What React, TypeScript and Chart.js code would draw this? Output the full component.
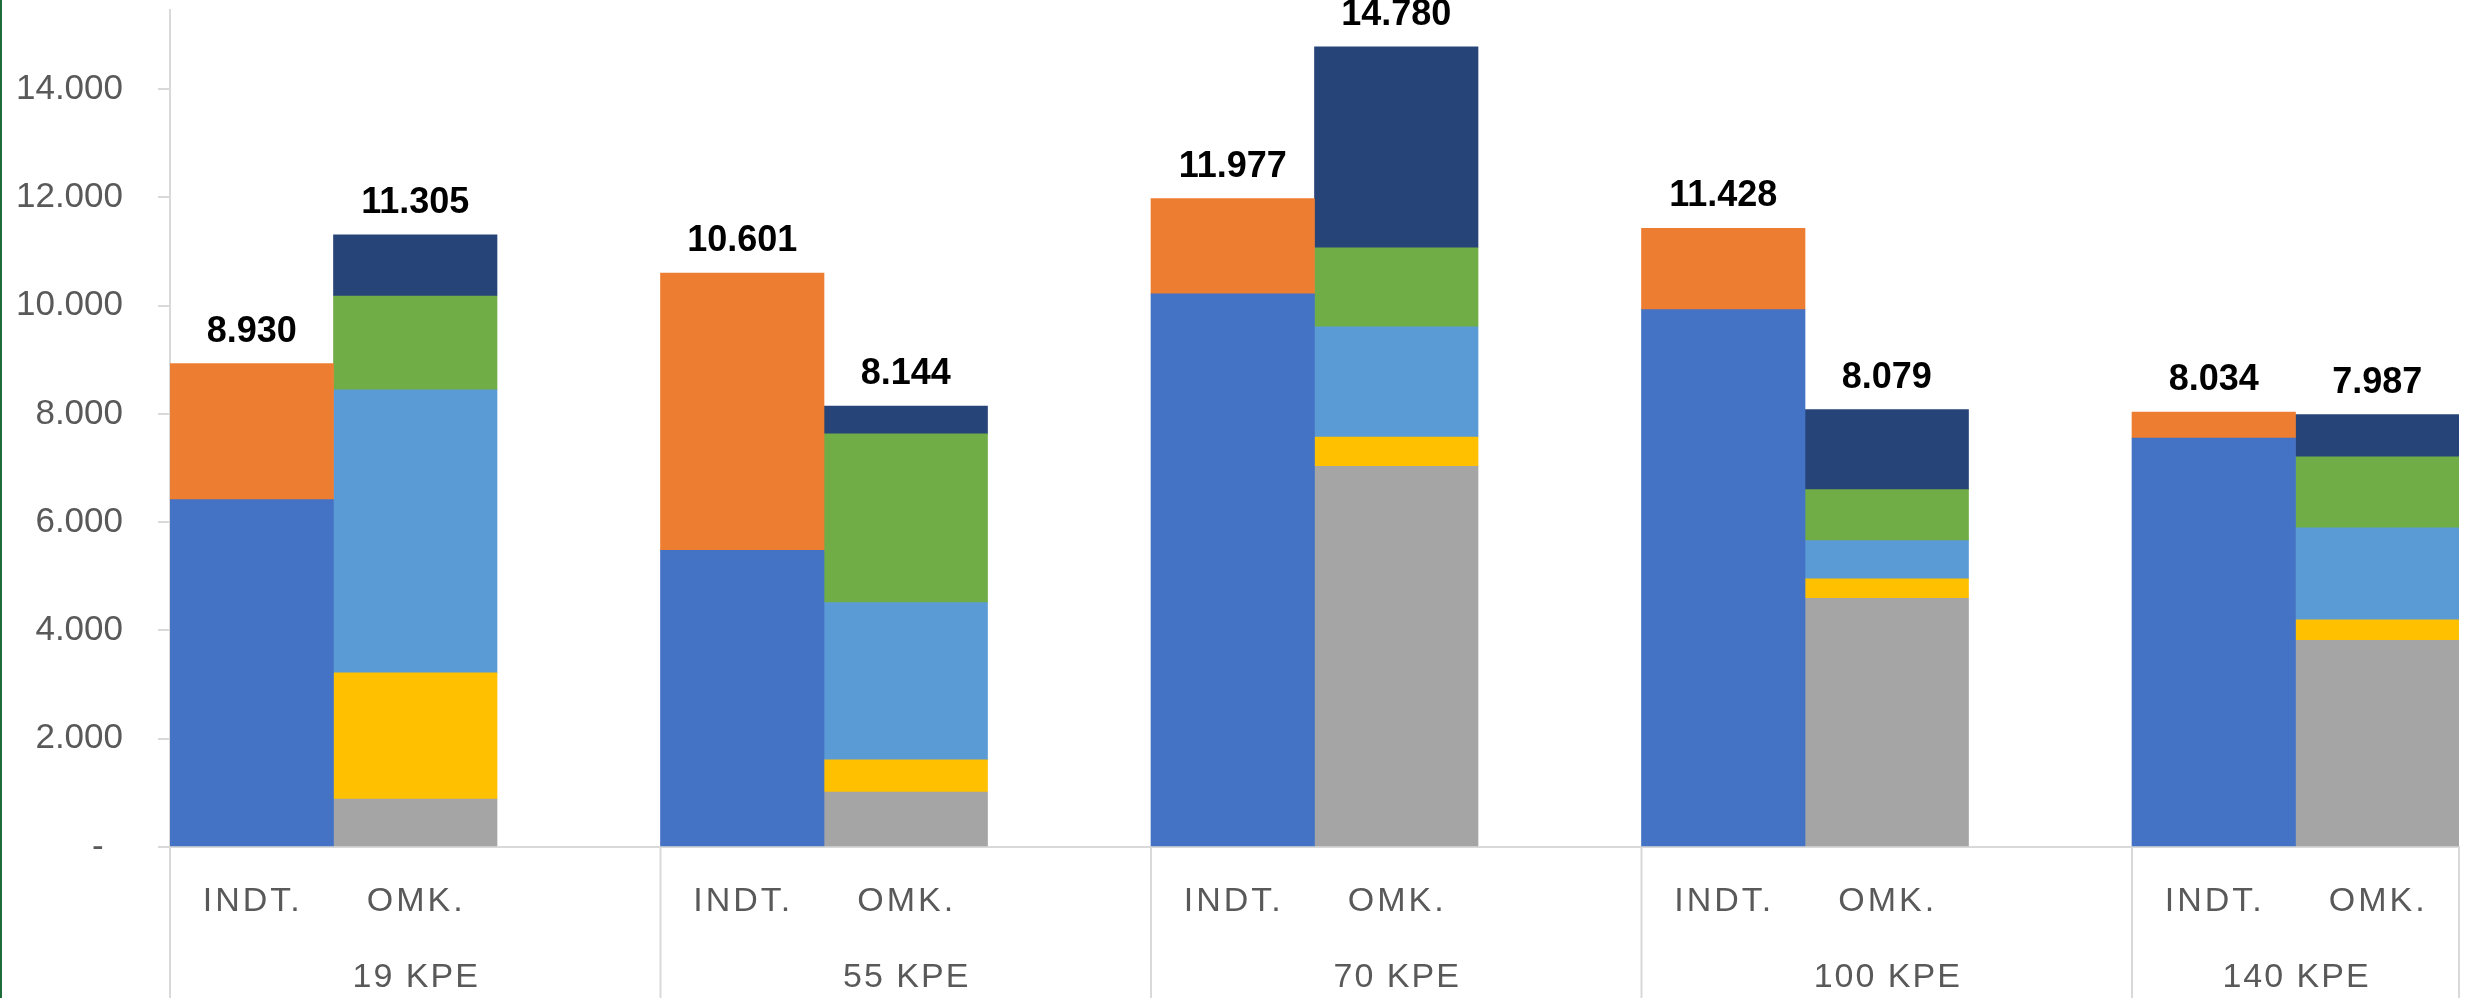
import React, { useEffect, useRef } from "react";
import { Chart, registerables } from "chart.js";

Chart.register(...registerables);

const groups = ["19 KPE", "55 KPE", "70 KPE", "100 KPE", "140 KPE"];
const subLabels = ["INDT.", "OMK."];
const yTicks = [0, 2000, 4000, 6000, 8000, 10000, 12000, 14000];

// INDT. bars
const indtBlue = [6415, 5480, 10217, 9925, 7555];
const indtOrange = [2515, 5121, 1760, 1503, 479];
// OMK. bars (bottom to top)
const omkGray = [885, 1015, 7030, 4594, 3816];
const omkYellow = [2330, 593, 540, 360, 382];
const omkLightBlue = [5230, 2905, 2040, 705, 1699];
const omkGreen = [1733, 3118, 1458, 942, 1312];
const omkNavy = [1127, 513, 3712, 1478, 778];

const FONT = "'Liberation Sans', Arial, sans-serif";

function fmt(v: number): string {
  return Math.round(v).toString().replace(/\B(?=(\d{3})+(?!\d))/g, ".");
}

export default function App() {
  const ref = useRef<HTMLCanvasElement | null>(null);

  useEffect(() => {
    if (!ref.current) return;
    const labels: string[] = [];
    groups.forEach((g, i) => {
      labels.push(subLabels[0], subLabels[1]);
      if (i < groups.length - 1) labels.push("");
    });
    const n = labels.length;
    const slot = (arr: number[], which: number) => {
      const out: (number | null)[] = new Array(n).fill(null);
      arr.forEach((v, g) => {
        out[g * 3 + which] = v;
      });
      return out;
    };
    const mk = (label: string, arr: number[], which: number, color: string) => ({
      label,
      data: slot(arr, which),
      backgroundColor: color,
      borderWidth: 0,
      categoryPercentage: 1,
      barPercentage: 1,
      stack: "s",
    });
    const datasets = [
      mk("A", indtBlue, 0, "#4472C4"),
      mk("B", indtOrange, 0, "#ED7D31"),
      mk("C", omkGray, 1, "#A5A5A5"),
      mk("D", omkYellow, 1, "#FFC000"),
      mk("E", omkLightBlue, 1, "#5B9BD5"),
      mk("F", omkGreen, 1, "#70AD47"),
      mk("G", omkNavy, 1, "#264478"),
    ];

    const overlay = {
      id: "overlay",
      afterDatasetsDraw(chart: any) {
        const ctx = chart.ctx;
        const xs = chart.scales.x;
        const ys = chart.scales.y;
        const area = chart.chartArea;
        const c = (i: number) => xs.getPixelForValue(i);
        const half = (c(1) - c(0)) / 2;
        ctx.save();
        // totals
        ctx.font = `bold 36px ${FONT}`;
        ctx.fillStyle = "#000000";
        ctx.textAlign = "center";
        ctx.textBaseline = "alphabetic";
        for (let i = 0; i < n; i++) {
          let tot = 0;
          let has = false;
          datasets.forEach((d) => {
            const v = d.data[i];
            if (v != null) {
              tot += v;
              has = true;
            }
          });
          if (!has) continue;
          ctx.fillText(fmt(tot), c(i), ys.getPixelForValue(tot) - 22);
        }
        // dividers
        ctx.strokeStyle = "#D9D9D9";
        ctx.lineWidth = 2;
        const bottom = chart.height;
        const edges: number[] = [];
        groups.forEach((g, gi) => {
          edges.push(c(gi * 3) - half);
        });
        edges.push(c(n - 1) + half);
        edges.forEach((x) => {
          ctx.beginPath();
          ctx.moveTo(x, area.bottom);
          ctx.lineTo(x, bottom);
          ctx.stroke();
        });
        // sub labels and group labels
        ctx.fillStyle = "#595959";
        ctx.font = `34px ${FONT}`;
        (ctx as any).letterSpacing = "3px";
        groups.forEach((g, gi) => {
          subLabels.forEach((s, si) => {
            ctx.fillText(s, c(gi * 3 + si) + 1, 911);
          });
          const start = c(gi * 3) - half;
          const end = gi < groups.length - 1 ? c(gi * 3 + 2) + half : c(gi * 3 + 1) + half;
          (ctx as any).letterSpacing = "2px";
          ctx.fillText(g, (start + end) / 2 + 1, 987);
          (ctx as any).letterSpacing = "3px";
        });
        ctx.restore();
      },
    };

    const chart = new Chart(ref.current, {
      type: "bar",
      data: { labels, datasets: datasets as any },
      options: {
        animation: false,
        responsive: true,
        maintainAspectRatio: false,
        devicePixelRatio: 1,
        layout: { padding: { top: 10, right: 22, left: 0, bottom: 0 } },
        plugins: { legend: { display: false }, tooltip: { enabled: false } },
        scales: {
          x: {
            stacked: true,
            ticks: { display: false },
            grid: { display: false },
            border: { display: true, color: "#D9D9D9", width: 2 },
            afterFit: (s: any) => {
              s.height = 151;
              s.paddingLeft = 0;
              s.paddingRight = 0;
            },
          },
          y: {
            stacked: true,
            min: 0,
            max: 15460,
            afterBuildTicks: (s: any) => {
              s.ticks = yTicks.map((v) => ({ value: v }));
            },
            ticks: {
              padding: 35,
              color: "#595959",
              font: { family: FONT, size: 35 },
              callback: (v: any) => (Number(v) === 0 ? "-  " : fmt(Number(v))),
            },
            grid: {
              drawOnChartArea: false,
              drawTicks: true,
              tickLength: 12,
              color: "#D9D9D9",
              lineWidth: 2,
            },
            border: { display: true, color: "#D9D9D9", width: 2 },
            afterFit: (s: any) => {
              s.width = 170;
              s.paddingTop = 0;
              s.paddingBottom = 0;
            },
          },
        },
      },
      plugins: [overlay],
    });
    return () => chart.destroy();
  }, []);

  return (
    <div style={{ position: "fixed", left: 0, top: 0, width: 2481, height: 998, background: "#ffffff" }}>
      <canvas ref={ref} />
      <div style={{ position: "absolute", left: 0, top: 0, width: 2, height: 998, background: "#1E6B3C" }} />
    </div>
  );
}
